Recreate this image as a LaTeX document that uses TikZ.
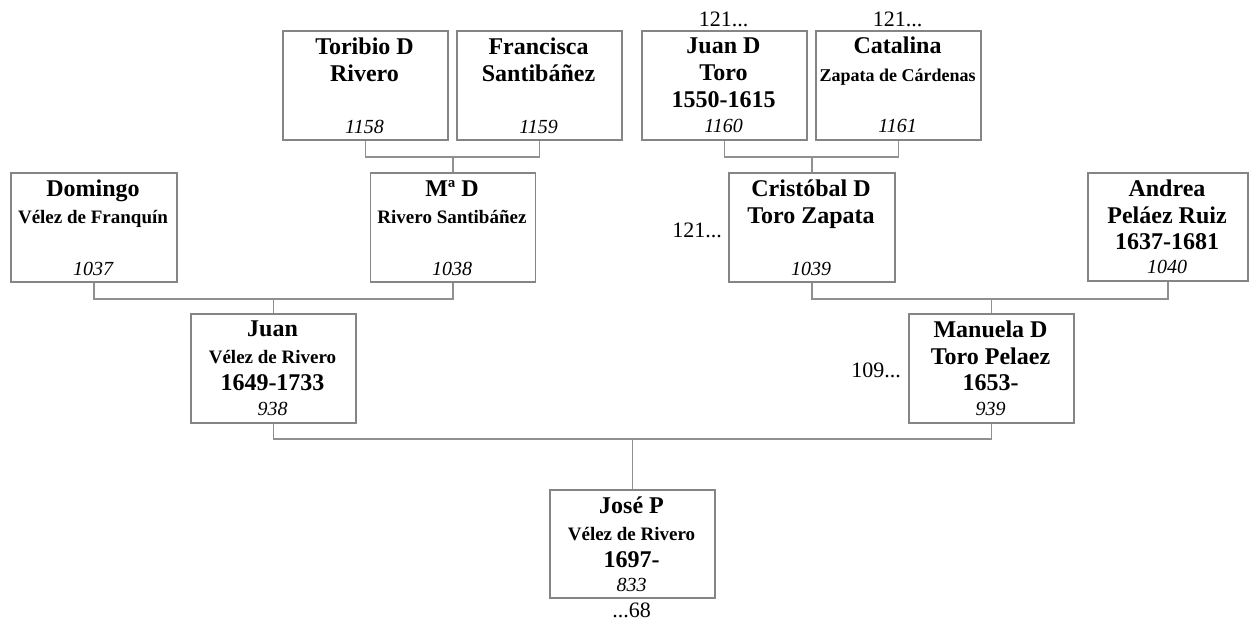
\documentclass[tikz,border=0pt]{standalone}
\usepackage{fontspec}
\setmainfont{Liberation Serif}
\definecolor{boxgray}{HTML}{858585}
\definecolor{linegray}{HTML}{909090}
\begin{document}
\begin{tikzpicture}[x=1pt,y=-1pt,
  person/.style={draw=boxgray, line width=1.8pt, minimum width=165pt, minimum height=109pt, inner sep=0pt, anchor=north west, fill=white},
  nm/.style={anchor=base, inner sep=0pt, font=\fontsize{24}{24}\selectfont\bfseries},
  sub/.style={anchor=base, inner sep=0pt, font=\fontsize{19}{19}\selectfont\bfseries},
  subs/.style={anchor=base, inner sep=0pt, font=\fontsize{18}{18}\selectfont\bfseries},
  num/.style={anchor=base, inner sep=0pt, font=\fontsize{20}{20}\selectfont\itshape},
  side/.style={inner sep=0pt, font=\fontsize{22}{22}\selectfont},
  link/.style={draw=linegray, line width=1.5pt}]
\useasboundingbox (0,0) rectangle (1249,625);
% boxes
\node[person] (toribio) at (282,30) {};
\node[person] (francisca) at (456,30) {};
\node[person] (juand) at (641,30) {};
\node[person] (catalina) at (815,30) {};
\node[person, minimum width=166pt] (domingo) at (10,172) {};
\node[person] (maria) at (369.5,172) {};
\node[person, minimum width=166pt] (cristobal) at (728,172) {};
\node[person, minimum width=160pt, minimum height=108pt] (andrea) at (1087,172) {};
\node[person] (juan) at (190,313) {};
\node[person] (manuela) at (908,313) {};
\node[person, minimum height=108pt] (jose) at (549,489) {};
% connectors
\draw[link] (toribio.south) -- ++(0,16) coordinate (f1) -| (francisca.south);
\draw[link] (maria.north) -- (maria.north |- f1);
\draw[link] (juand.south) -- ++(0,16) coordinate (f2) -| (catalina.south);
\draw[link] (cristobal.north) -- (cristobal.north |- f2);
\draw[link] (domingo.south) -- ++(0,16) coordinate (f3) -| (maria.south);
\draw[link] (juan.north) -- (juan.north |- f3);
\draw[link] (cristobal.south) -- ++(0,16) coordinate (f4) -| (andrea.south);
\draw[link] (manuela.north) -- (manuela.north |- f4);
\draw[link] (juan.south) -- ++(0,15) coordinate (f5) -| (manuela.south);
\draw[link] (jose.north) -- (jose.north |- f5);
% texts row 1
\node[nm] (t1) at (364.5,54) {Toribio D};
\node[nm] (t2) at (364.5,81) {Rivero};
\node[num] (t3) at (364.5,133) {1158};
\node[nm] (fr1) at (538.5,54) {Francisca};
\node[nm] (fr2) at (538.5,81) {Santibáñez};
\node[num] (fr3) at (538.5,133) {1159};
\node[nm] (jd1) at (723.5,53) {Juan D};
\node[nm] (jd2) at (723.5,80) {Toro};
\node[nm] (jd3) at (723.5,107) {1550-1615};
\node[num] (jd4) at (723.5,132) {1160};
\node[nm] (c1) at (897.5,53) {Catalina};
\node[subs] (c2) at (897.5,81) {Zapata de Cárdenas};
\node[num] (c3) at (897.5,132) {1161};
\node[side, anchor=base] (l1) at (723.5,26) {121...};
\node[side, anchor=base] (l2) at (897.5,26) {121...};
% row 2
\node[nm] (d1) at (93,196) {Domingo};
\node[sub] (d2) at (93,223) {Vélez de Franquín};
\node[num] (d3) at (93,275) {1037};
\node[nm] (m1) at (452,196) {Mª D};
\node[sub] (m2) at (452,223) {Rivero Santibáñez};
\node[num] (m3) at (452,275) {1038};
\node[nm] (cr1) at (811,196) {Cristóbal D};
\node[nm] (cr2) at (811,223) {Toro Zapata};
\node[num] (cr3) at (811,275) {1039};
\node[side, anchor=base east] (l3) at (722,237) {121...};
\node[nm] (a1) at (1167,196) {Andrea};
\node[nm] (a2) at (1167,223) {Peláez Ruiz};
\node[nm] (a3) at (1167,249) {1637-1681};
\node[num] (a4) at (1167,273) {1040};
% row 3
\node[nm] (j1) at (272.5,336) {Juan};
\node[sub] (j2) at (272.5,363) {Vélez de Rivero};
\node[nm] (j3) at (272.5,390) {1649-1733};
\node[num] (j4) at (272.5,415) {938};
\node[nm] (mn1) at (990.5,337) {Manuela D};
\node[nm] (mn2) at (990.5,364) {Toro Pelaez};
\node[nm] (mn3) at (990.5,390) {1653-};
\node[num] (mn4) at (990.5,415) {939};
\node[side, anchor=base east] (l4) at (901,377) {109...};
% row 4
\node[nm] (js1) at (631.5,513) {José P};
\node[sub] (js2) at (631.5,540) {Vélez de Rivero};
\node[nm] (js3) at (631.5,567) {1697-};
\node[num] (js4) at (631.5,591) {833};
\node[side, anchor=base] (l5) at (631.5,617) {...68};
\end{tikzpicture}
\end{document}
